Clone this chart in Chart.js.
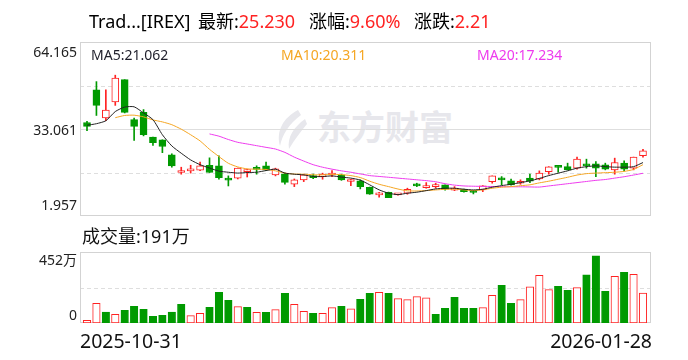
<!DOCTYPE html>
<html>
<head>
<meta charset="utf-8">
<script src="https://cdn.jsdelivr.net/npm/chart.js@4.4.1/dist/chart.umd.min.js"></script>
<style>
html,body{margin:0;padding:0;background:#fff;}
body{width:688px;height:360px;position:relative;overflow:hidden;font-family:"Noto Sans","Noto Sans CJK SC",sans-serif;color:#111;}
.t{position:absolute;white-space:nowrap;line-height:1;z-index:2;}
.r{color:#f22;}
canvas{position:absolute;left:0;z-index:1;}
#wm{position:absolute;left:317px;top:109px;font-weight:bold;font-size:34px;font-family:"Noto Sans CJK SC";color:#e7e7ec;z-index:0;line-height:1;}
#logo{position:absolute;left:274px;top:110px;z-index:0;}
</style>
</head>
<body>
<svg id="logo" width="34" height="40" viewBox="0 0 34 40"><path d="M24 0 C9 8 2 21 6 36 C8 25 15 14 27 5 Z" fill="#e7e7ec"/><path d="M31 9 C20 17 13 27 15 39 C21 29 27 21 33 14 Z" fill="#e7e7ec"/></svg>
<div id="wm">东方财富</div>
<canvas id="k" width="688" height="230" style="top:0"></canvas>
<canvas id="v" width="688" height="130" style="top:230px"></canvas>
<div id="labels"></div>
<script>
// ---- data ----
const stockName = 'Trad...[IREX]';
const summaryLabels = ['最新', '涨幅', '涨跌'];
const summaryValues = ['25.230', '9.60%', '2.21'];
const dateLabels = ['2025-10-31', '2026-01-28'];
const priceTicks = [64.165, 33.061, 1.957];
const priceTickLabels = ['64.165', '33.061', '1.957'];
const volTicks = [452, 0];
const volTickLabels = ['452万', '0'];
const volumeLabel = '成交量:191万';
const maLabels = ['MA5:21.062', 'MA10:20.311', 'MA20:17.234'];
const prevClose = 33.5;

const opens  = [35.4,47.1,37.0,42.7,50.7,36.4,39.0,30.2,29.2,23.8, 17.5,18.1,18.3,20.1,19.9,15.0,15.5,17.85,18.8,19.9, 16.65,17.0,13.3,14.87,16.3,16.05,16.6,16.65,14.3,14.5, 12.25,9.5,10.46,9.5,10.1,12.9,12.1,12.46,13.07,11.2, 11.53,10.5,11.28,14.25,15.47,14.5,13.68,15.47,15.2,17.85, 19.5,19.6,19.06,20.1,20.6,20.24,18.45,20.85,19.06,23.5];
const closes = [34.0,41.5,39.85,51.3,39.0,34.0,31.0,28.2,26.8,19.9, 18.1,18.8,19.9,17.5,15.7,14.8,19.1,18.45,18.6,18.45, 18.8,14.0,14.87,16.65,15.7,16.9,17.0,14.9,15.0,12.46, 9.74,10.1,8.52,9.7,11.53,12.75,12.82,12.7,11.53,11.45, 10.67,10.4,12.7,16.3,14.87,13.07,14.3,14.4,17.27,19.5, 19.35,18.45,22.28,19.9,19.06,18.7,21.07,18.7,23.02,25.23];
const highs  = [35.8,50.0,47.1,52.3,50.7,37.0,40.0,30.2,29.2,24.2, 19.4,20.1,21.2,22.75,23.5,16.3,19.1,18.7,19.9,21.2, 19.06,17.3,15.2,16.9,16.9,17.27,18.2,16.9,15.1,14.87, 12.3,10.46,10.5,9.8,11.9,13.68,13.9,13.68,13.1,12.46, 11.6,11.03,12.82,16.3,16.05,15.2,14.9,16.9,18.09,19.6, 19.6,20.85,23.0,22.28,21.43,20.85,22.64,21.67,23.02,25.8];
const lows   = [32.5,37.9,36.0,41.5,38.8,29.0,30.6,27.2,24.6,19.4, 16.9,17.3,18.2,17.5,15.1,12.7,15.2,15.9,16.9,18.2, 16.3,13.3,12.46,14.25,15.33,15.1,16.05,14.7,12.8,11.64, 9.7,8.66,8.5,9.4,9.74,12.46,11.88,11.88,11.2,11.03, 10.5,9.85,10.67,13.68,13.07,13.0,13.3,13.9,14.87,16.9, 17.6,18.4,18.7,19.06,16.05,18.45,16.9,18.09,18.45,23.0];
const volumes = [17,125,70,55,81,106,87,42,49,70, 119,47,62,100,195,144,104,100,68,68, 85,189,119,74,62,62,98,106,91,151, 189,195,189,155,149,168,161,55,93,163, 93,93,98,176,240,125,149,231,303,212, 233,208,225,306,427,202,297,323,310,191];
const ma5  = [34.4,34.95,36.0,39.3,40.9,41.0,38.8,36.4,31.0,27.0, 24.4,22.0,20.3,19.1,18.0,17.6,17.3,17.5,17.6,18.2, 18.7,17.3,16.9,16.65,16.1,16.05,16.3,15.85,15.5,14.8, 13.1,11.3,10.1,9.6,10.1,10.46,11.03,11.64,11.88,11.88, 11.53,11.28,11.53,12.25,12.82,13.3,13.9,14.5,15.4,16.4, 17.27,18.1,19.06,19.6,19.89,19.6,19.42,19.42,19.6,21.062];
const ma10 = [null,null,null,37.1,37.9,38.0,37.4,36.3,35.6,34.6, 33.0,31.0,28.8,25.8,23.2,20.8,19.5,18.8,18.7,18.6, 18.1,17.3,16.95,16.9,16.7,16.65,16.85,16.75,16.4,15.7, 14.4,13.3,12.46,11.6,10.95,10.9,11.03,11.28,11.5,11.55, 11.3,11.05,11.3,11.88,12.25,12.46,12.8,13.1,13.8,14.4, 15.1,15.8,16.6,17.1,17.3,17.45,17.6,17.9,18.6,20.311];
const ma20 = [null,null,null,null,null,null,null,null,null,null, null,null,null,31.3,30.5,29.3,28.3,27.7,27.1,26.5, 25.9,24.7,23.0,21.6,20.3,19.4,18.7,18.1,17.6,17.0, 16.4,16.1,15.8,15.5,15.2,14.9,14.6,14.2,13.5,13.0, 12.7,12.6,12.55,12.5,12.45,12.4,12.4,12.35,12.3,12.7, 13.1,13.5,13.9,14.3,14.7,15.0,15.5,16.0,16.6,17.234];

// ---- styling ----
const UP = '#f22', DOWN = '#009a00';
const MA_COLORS = ['#222222', '#f5a623', '#ee3bee'];
const candleUp = i => closes[i] >= opens[i];
const volUp = i => closes[i] >= (i === 0 ? prevClose : closes[i - 1]);
const xMin = -0.743, xMax = 59.85;

const framePlugin = {
  id: 'frame',
  beforeDatasetsDraw(chart, args, opts) {
    const {ctx, chartArea: a} = chart;
    const y = chart.scales.y;
    ctx.save();
    ctx.lineWidth = 1;
    ctx.strokeStyle = '#dedede';
    ctx.setLineDash([4, 3]);
    (opts.dashed || []).forEach(v => {
      const py = Math.round(y.getPixelForValue(v)) + 0.5;
      ctx.beginPath(); ctx.moveTo(a.left, py); ctx.lineTo(a.right, py); ctx.stroke();
    });
    ctx.setLineDash([]);
    (opts.solid || []).forEach(v => {
      const py = Math.round(y.getPixelForValue(v)) + 0.5;
      ctx.beginPath(); ctx.moveTo(a.left, py); ctx.lineTo(a.right, py); ctx.stroke();
    });
    ctx.strokeStyle = '#d3d3d3';
    ctx.strokeRect(a.left + 0.5, a.top + 0.5, a.right - a.left - 1, a.bottom - a.top - 1);
    ctx.restore();
  }
};

const idx = opens.map((_, i) => i);
const maSet = (arr, c) => ({
  type: 'line', data: idx.map(i => ({x: i, y: arr[i]})), borderColor: c, borderWidth: 1,
  pointRadius: 0, tension: 0.2, spanGaps: false, order: 0
});

const priceRange = priceTicks[0] - priceTicks[2];
const kChart = new Chart(document.getElementById('k'), {
  type: 'bar',
  data: {
    datasets: [
      maSet(ma5, MA_COLORS[0]), maSet(ma10, MA_COLORS[1]), maSet(ma20, MA_COLORS[2]),
      {
        type: 'bar', data: idx.map(i => ({x: i, y: [opens[i], closes[i]]})),
        backgroundColor: c => candleUp(c.dataIndex) ? '#ffffff' : DOWN,
        borderColor: c => candleUp(c.dataIndex) ? UP : DOWN,
        borderWidth: 1, borderSkipped: false, barThickness: 7, minBarLength: 2, grouped: false, order: 1
      },
      {
        type: 'bar', data: idx.map(i => ({x: i, y: [lows[i], highs[i]]})),
        backgroundColor: c => candleUp(c.dataIndex) ? UP : DOWN,
        borderWidth: 0, barThickness: 1, grouped: false, order: 2
      }
    ]
  },
  options: {
    responsive: false, animation: false, devicePixelRatio: 1, events: [],
    layout: {padding: {left: 80, right: 37, top: 42, bottom: 14}},
    scales: {
      x: {type: 'linear', min: xMin, max: xMax, offset: false, display: false},
      y: {type: 'linear', min: priceTicks[2], max: priceTicks[0], beginAtZero: false, display: false}
    },
    plugins: {
      legend: {display: false}, tooltip: {enabled: false},
      frame: {dashed: [priceTicks[2] + priceRange * 0.25, priceTicks[2] + priceRange * 0.75], solid: [priceTicks[1]]}
    }
  },
  plugins: [framePlugin]
});

const vChart = new Chart(document.getElementById('v'), {
  type: 'bar',
  data: {
    datasets: [{
      data: idx.map(i => ({x: i, y: volumes[i]})),
      backgroundColor: c => volUp(c.dataIndex) ? '#ffffff' : DOWN,
      borderColor: c => volUp(c.dataIndex) ? UP : DOWN,
      borderWidth: 1, borderSkipped: false, barThickness: 7.5, grouped: false
    }]
  },
  options: {
    responsive: false, animation: false, devicePixelRatio: 1, events: [],
    layout: {padding: {left: 80, right: 37, top: 22, bottom: 37}},
    scales: {
      x: {type: 'linear', min: xMin, max: xMax, offset: false, display: false},
      y: {type: 'linear', min: volTicks[1], max: volTicks[0], display: false}
    },
    plugins: {
      legend: {display: false}, tooltip: {enabled: false},
      frame: {dashed: [volTicks[0] / 2], solid: []}
    }
  },
  plugins: [framePlugin]
});

// ---- text (HTML) ----
const L = document.getElementById('labels');
function addText(txt, style, html) {
  const d = document.createElement('div');
  d.className = 't';
  if (html) d.innerHTML = txt; else d.textContent = txt;
  Object.assign(d.style, style);
  L.appendChild(d);
  return d;
}
addText(stockName, {left: '89px', top: '12px', fontSize: '18px', color: '#000'});
const sumLeft = [198, 309, 414];
summaryLabels.forEach((lab, i) => {
  addText(lab + ':<span class="r">' + summaryValues[i] + '</span>', {left: sumLeft[i] + 'px', top: '12px', fontSize: '18px', color: '#000'}, true);
});
const maLeft = [91, 281, 477];
maLabels.forEach((t, i) => addText(t, {left: maLeft[i] + 'px', top: '47.6px', fontSize: '14px', color: i === 0 ? '#1e1e2a' : MA_COLORS[i]}));

// price tick labels, positioned from the y scale
const ys = kChart.scales.y;
priceTickLabels.forEach((t, i) => {
  const py = ys.getPixelForValue(priceTicks[i]);
  const off = i === 0 ? 2.5 : (i === 1 ? -6.5 : -18.5);
  addText(t, {right: '611px', top: (py + off) + 'px', fontSize: '14px', color: '#222'});
});
addText(volumeLabel, {left: '82px', top: '227px', fontSize: '18px', color: '#111'});
const yv = vChart.scales.y;
volTickLabels.forEach((t, i) => {
  const py = 230 + yv.getPixelForValue(volTicks[i]);
  const off = i === 0 ? 0.5 : -15.5;
  addText(t, {right: '611px', top: (py + off) + 'px', fontSize: '14px', color: '#222'});
});
addText(dateLabels[0], {left: '80px', top: '331px', fontSize: '19.5px', color: '#111'});
addText(dateLabels[1], {right: '36px', top: '331px', fontSize: '19.5px', color: '#111'});
</script>
</body>
</html>
